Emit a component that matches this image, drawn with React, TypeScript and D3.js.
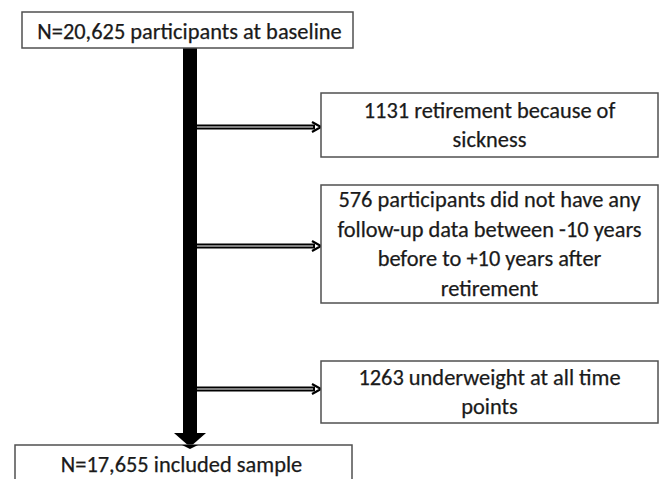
import React from "react";
import * as d3 from "d3";

const topLabel = ["N=20,625 participants at baseline"];
const exclusionLabels = [
  ["1131 retirement because of", "sickness"],
  ["576 participants did not have any", "follow-up data between -10 years", "before to +10 years after", "retirement"],
  ["1263 underweight at all time", "points"],
];
const bottomLabel = ["N=17,655 included sample"];

const W = 661, H = 479;
const FONT = "Carlito, Lato, 'Open Sans', sans-serif";
const FS = 22.4;
const LH = 29.5;

// layout
const topBox = { x: 22, y: 12, w: 331, h: 36 };
const bottomBox = { x: 15, y: 445, w: 337, h: 60 };
const exBoxes = [
  { x: 321, y: 93, w: 337, h: 64 },
  { x: 321, y: 185, w: 337, h: 118 },
  { x: 321, y: 361, w: 337, h: 62 },
];
const arrowYs = [127, 246, 389];
const barX0 = 183, barX1 = 197;

function Lines({ lines, cx, cy }: { lines: string[]; cx: number; cy: number }) {
  const y = d3.scaleLinear().domain([0, lines.length - 1 || 1]).range([cy - ((lines.length - 1) * LH) / 2, cy + ((lines.length - 1) * LH) / 2]);
  return (
    <>
      {lines.map((t, i) => (
        <text key={i} x={cx} y={lines.length === 1 ? cy : y(i)} textAnchor="middle" dominantBaseline="central"
          fontFamily={FONT} fontSize={FS} fill="#1a1a1a" stroke="#1a1a1a" strokeWidth={0.25}>{t}</text>
      ))}
    </>
  );
}

export default function App() {
  const barMid = (barX0 + barX1) / 2;
  return (
    <svg width={W} height={H} style={{ position: "absolute", left: 0, top: 0, background: "#fff" }}>
      <rect x={0} y={0} width={W} height={H} fill="#fff" />
      {/* main bar */}
      <rect x={barX0} y={topBox.y + topBox.h} width={barX1 - barX0} height={433 - (topBox.y + topBox.h)} fill="#000" />
      <path d={`M${barMid - 16},433 L${barMid + 16},433 L${barMid},447 Z`} fill="#000" />
      {/* side arrows */}
      {arrowYs.map((ay, i) => {
        const x0 = barX1, x1 = exBoxes[i].x;
        return (
          <g key={i}>
            <line x1={x0} x2={x1 - 6} y1={ay} y2={ay} stroke="#000" strokeWidth={5} />
            <line x1={x0} x2={x1 - 8} y1={ay} y2={ay} stroke="#fff" strokeWidth={1.2} />
            <path d={`M${x1 - 9},${ay - 5} L${x1},${ay} L${x1 - 9},${ay + 5}`} fill="none" stroke="#000" strokeWidth={2.2} />
          </g>
        );
      })}
      {/* boxes */}
      <rect x={topBox.x} y={topBox.y} width={topBox.w} height={topBox.h} fill="#fff" stroke="#505050" strokeWidth={1.5} />
      <Lines lines={topLabel} cx={topBox.x + topBox.w / 2 + 2} cy={topBox.y + topBox.h / 2 + 1} />
      {exBoxes.map((b, i) => (
        <g key={i}>
          <rect x={b.x} y={b.y} width={b.w} height={b.h} fill="#fff" stroke="#505050" strokeWidth={1.5} />
          <Lines lines={exclusionLabels[i]} cx={b.x + b.w / 2} cy={b.y + b.h / 2} />
        </g>
      ))}
      <rect x={bottomBox.x} y={bottomBox.y} width={bottomBox.w} height={bottomBox.h} fill="#fff" stroke="#505050" strokeWidth={1.5} />
      <path d={`M${barMid - 8},445 L${barMid + 8},445 L${barMid},449 Z`} fill="#000" />
      <Lines lines={bottomLabel} cx={bottomBox.x + bottomBox.w / 2 - 2} cy={464} />
    </svg>
  );
}
